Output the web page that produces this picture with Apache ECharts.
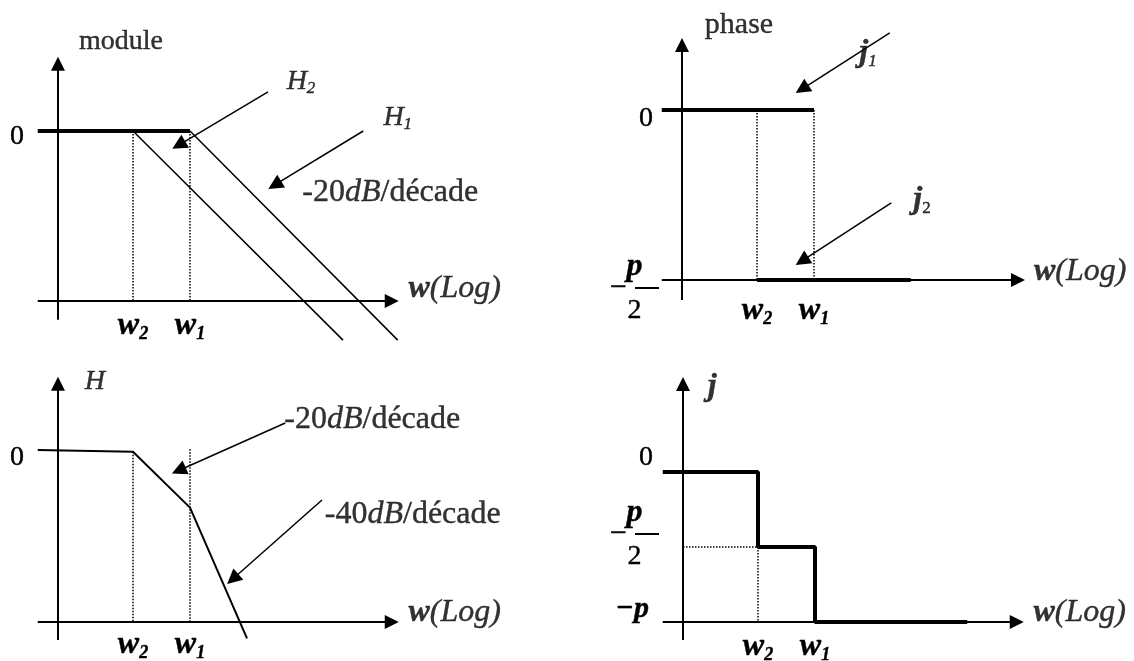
<!DOCTYPE html>
<html>
<head>
<meta charset="utf-8">
<title>Bode</title>
<script src="https://cdn.jsdelivr.net/npm/echarts@6/dist/echarts.min.js"></script>
<style>
html, body { margin: 0; padding: 0; background: #fff; }
#main { width: 1134px; height: 661px; }
</style>
</head>
<body>
<div id="main"></div>
<script>
// abscissa = log(w), the vertical axis sits at 0 ; w2 and w1 are the break points
const wValues = [1.0, 1.76];
const wLabels = ['w2', 'w1'];

// module of H1 and H2 (dB) : 0 then -20dB/decade
const moduleFlat = [[-0.27, 0], [1.76, 0]];
const moduleH2 = [[1.0, 0], [3.8, -24.6]];
const moduleH1 = [[1.76, 0], [4.53, -24.6]];
const moduleGuides = [[[1.0, 0], [1.0, -20]], [[1.76, 0], [1.76, -20]]];
const moduleTicks = [0];
const moduleTickLabels = ['0'];

// phases phi1 and phi2 (degrees)
const phase1 = [[-0.27, 0], [1.76, 0]];
const phase2 = [[1.0, -90], [3.05, -90]];
const phaseGuides = [[[1.0, 0], [1.0, -90]], [[1.76, 0], [1.76, -90]]];
const phaseTicks = [0, -90];
const phaseTickLabels = ['0', '-p/2'];

// H = H1.H2 : module (dB)
const hModule = [[-0.27, 0], [1.0, -0.2], [1.76, -6.7], [2.52, -21.9]];
const hGuides = [[[1.0, -0.2], [1.0, -20]], [[1.76, 0.1], [1.76, -20]]];
const hTicks = [0];
const hTickLabels = ['0'];

// phi = phi1 + phi2 (degrees)
const phiStep = [[-0.27, 0], [1.0, 0], [1.0, -90], [1.76, -90], [1.76, -180], [3.79, -180]];
const phiGuides = [[[0, -90], [1.0, -90]], [[1.0, -90], [1.0, -180]]];
const phiTicks = [0, -90, -180];
const phiTickLabels = ['0', '-p/2', '-p'];

// axes drawn as arrows : [start, end] per panel
const axesA = [[[-0.27, -20], [4.45, -20]], [[0, -22.2], [0, 7.9]]];
const axesB = [[[-0.27, -90], [4.48, -90]], [[0, -100.6], [0, 34.4]]];
const axesC = [[[-0.27, -20], [4.45, -20]], [[0, -22.1], [0, 7.7]]];
const axesD = [[[-0.27, -180], [4.45, -180]], [[0, -201.6], [0, 105.6]]];

// annotation arrows
const arrowsA = [[[2.8, 4.6], [1.61, -1.65]], [[4.07, 0], [2.89, -6.35]]];
const arrowsB = [[[2.77, 40.8], [1.6, 11.1]], [[2.79, -49.2], [1.6, -79.9]]];
const arrowsC = [[[3.03, 3.14], [1.61, -2.38]], [[3.52, -5.81], [2.33, -15.0]]];

const FONT = 'Liberation Serif';
function txt(size, italic, bold, extra) {
  return Object.assign({
    fontFamily: FONT, fontSize: size, color: '#000',
    textBorderColor: '#000', textBorderWidth: 0.4,
    fontStyle: italic ? 'italic' : 'normal', fontWeight: bold ? 'bold' : 'normal'
  }, extra || {});
}
const rich = {
  n: txt(28, false, false, { lineHeight: 30 }),
  i: txt(28, true, false, { lineHeight: 30 }),
  b: txt(28, true, true, { lineHeight: 30 }),
  L: txt(32, false, false, { lineHeight: 34 }),
  Li: txt(32, true, false, { lineHeight: 34 }),
  Lb: txt(32, true, true, { lineHeight: 34 }),
  ph: txt(30, false, false, { lineHeight: 32 }),
  si: txt(17, true, false, { verticalAlign: 'bottom', lineHeight: 20 }),
  sn: txt(17, false, false, { verticalAlign: 'bottom', lineHeight: 20 }),
  sb: txt(18, true, true, { verticalAlign: 'bottom', lineHeight: 20 }),
  // compact tokens (small boxes, so that stacked tick labels do not collide)
  c6: txt(28, false, false, { lineHeight: 10, padding: [0, 6, 0, 0] }),
  mp: txt(30, true, true, { lineHeight: 10, padding: [0, 10, 0, 0] }),
  fp: txt(32, true, true, { width: 24, align: 'center', lineHeight: 10 }),
  fd: txt(28, false, false, { width: 24, align: 'center', lineHeight: 10 }),
  fm: txt(30, false, false, { lineHeight: 2, padding: [0, 8, 0, 0] }),
  bar: { width: 24, height: 2, lineHeight: 2, backgroundColor: '#000', fontSize: 1 }
};
[12, 15, 16, 17, 18, 24, 26, 28].forEach(function (h) {
  rich['g' + h] = { height: h, lineHeight: h, fontSize: 1 };
});

// tick label text -> rich string ; dy moves the label down (>0) or up (<0)
function tickText(label, dy, padded) {
  let s;
  if (label === '-p/2') s = '{fp|p}\n{g15| }\n{fm|\u2212}{bar| }\n{g17| }\n{fd|2}';
  else if (label === '-p') s = '{mp|\u2212p}';
  else s = '{' + (padded ? 'c6' : 'n') + '|' + label + '}';
  if (dy > 0) s = '{g' + (2 * dy) + '| }\n' + s;
  if (dy < 0) s = s + '\n{g' + (-2 * dy) + '| }';
  return s;
}
function wText(label) {
  return '{Lb|' + label.charAt(0) + '}{sb|' + label.slice(1) + '}';
}

const panels = [
  { ox: 58, oy: 301, base: -20, sx: 75, sy: 8.5, xr: [-0.6, 5.8], yr: [-26, 13],
    ticks: moduleTicks, labels: moduleTickLabels, shifts: [6], yMargin: 34, xMargin: 8, padded: false },
  { ox: 682, oy: 280, base: -90, sx: 75, sy: 170 / 90, xr: [-0.6, 5.8], yr: [-104, 52],
    ticks: phaseTicks, labels: phaseTickLabels, shifts: [9, 9], yMargin: 23, xMargin: 14, padded: true },
  { ox: 58, oy: 622, base: -20, sx: 75, sy: 8.6, xr: [-0.6, 5.8], yr: [-24, 12],
    ticks: hTicks, labels: hTickLabels, shifts: [8], yMargin: 34, xMargin: 6, padded: false },
  { ox: 683, oy: 622, base: -180, sx: 75, sy: 75 / 90, xr: [-0.6, 5.8], yr: [-206, 120],
    ticks: phiTicks, labels: phiTickLabels, shifts: [-14, -12, -13], yMargin: 24, xMargin: 8, padded: true }
];

const grids = panels.map(function (p) {
  return {
    left: p.ox + p.xr[0] * p.sx, width: (p.xr[1] - p.xr[0]) * p.sx,
    top: p.oy - (p.yr[1] - p.base) * p.sy, height: (p.yr[1] - p.yr[0]) * p.sy,
    containLabel: false, outerBoundsMode: 'none'
  };
});
const xAxes = panels.map(function (p, k) {
  return {
    gridIndex: k, type: 'value', min: p.xr[0], max: p.xr[1], position: 'bottom',
    offset: -(p.base - p.yr[0]) * p.sy,
    axisLine: { show: false, onZero: false }, axisTick: { show: false }, splitLine: { show: false },
    axisLabel: {
      customValues: wValues, margin: p.xMargin, rich: rich, color: '#000',
      showMinLabel: true, showMaxLabel: true, hideOverlap: false,
      formatter: function (v) { return wText(wLabels[wValues.indexOf(v)]); }
    }
  };
});
const yAxes = panels.map(function (p, k) {
  return {
    gridIndex: k, type: 'value', min: p.yr[0], max: p.yr[1], position: 'left',
    offset: p.xr[0] * p.sx,
    axisLine: { show: false, onZero: false }, axisTick: { show: false }, splitLine: { show: false },
    axisLabel: {
      customValues: p.ticks, margin: p.yMargin, rich: rich, color: '#000',
      showMinLabel: true, showMaxLabel: true, hideOverlap: false,
      formatter: function (v) {
        const j = p.ticks.indexOf(v);
        return tickText(p.labels[j], p.shifts[j], p.padded);
      }
    }
  };
});

function path(g, points, width, dash) {
  return {
    type: 'line', xAxisIndex: g, yAxisIndex: g, data: points,
    showSymbol: false, symbol: 'none', silent: true, clip: false, animation: false,
    lineStyle: { color: '#000', width: width, type: dash ? [1.5, 1.5] : 'solid', cap: 'butt' }
  };
}
function arrows(g, segs, width, size) {
  return {
    type: 'line', xAxisIndex: g, yAxisIndex: g, data: [], silent: true, animation: false,
    markLine: {
      silent: true, animation: false, symbol: ['none', 'triangle'], symbolSize: size,
      label: { show: false }, emphasis: { disabled: true },
      lineStyle: { color: '#000', width: width, type: 'solid' },
      data: segs.map(function (s) { return [{ coord: s[0] }, { coord: s[1] }]; })
    }
  };
}
function texts(g, items) {
  return {
    type: 'scatter', xAxisIndex: g, yAxisIndex: g, symbolSize: 0, silent: true, animation: false,
    data: items.map(function (t) {
      return { value: t[0], label: { show: true, position: 'inside', color: '#000', formatter: t[1], rich: rich } };
    })
  };
}
const dbLabel = function (n) { return '{L|-' + n + '}{Li|dB}{L|/d\u00e9cade}'; };
const logLabel = '{Lb|w}{Li|(Log)}';

const series = [
  // module
  path(0, moduleFlat, 4), path(0, moduleH2, 1.5), path(0, moduleH1, 1.5),
  path(0, moduleGuides[0], 1.5, true), path(0, moduleGuides[1], 1.5, true),
  arrows(0, axesA, 2, 14), arrows(0, arrowsA, 1.5, 15),
  texts(0, [
    [[0.84, 10.5], '{n|module}'], [[3.24, 5.76], '{i|H}{si|2}'], [[4.53, 1.53], '{i|H}{si|1}'],
    [[4.43, -7.3], dbLabel(20)], [[5.29, -18.5], logLabel]
  ]),
  // phase
  path(1, phaseGuides[0], 1.5, true), path(1, phaseGuides[1], 1.5, true),
  arrows(1, axesB, 2, 14), arrows(1, arrowsB, 1.5, 15),
  path(1, phase1, 4), path(1, phase2, 4),
  texts(1, [
    [[0.76, 45], '{ph|phase}'], [[2.48, 30.2], '{Lb|j}{si|1}'], [[3.2, -47.6], '{Lb|j}{sn|2}'],
    [[5.31, -85.8], logLabel]
  ]),
  // H
  path(2, hModule, 2),
  path(2, hGuides[0], 1.5, true), path(2, hGuides[1], 1.5, true),
  arrows(2, axesC, 2, 14), arrows(2, arrowsC, 1.5, 15),
  texts(2, [
    [[0.49, 7.9], '{i|H}'], [[4.19, 3.5], dbLabel(20)], [[4.73, -7.56], dbLabel(40)],
    [[5.29, -18.95], logLabel]
  ]),
  // phi
  path(3, phiGuides[0], 1.5, true), path(3, phiGuides[1], 1.5, true),
  arrows(3, axesD, 2, 14),
  path(3, phiStep, 4),
  texts(3, [[[0.39, 102], '{Lb|j}'], [[5.29, -169.2], logLabel]])
];

const chart = echarts.init(document.getElementById('main'), null, { renderer: 'canvas' });
chart.setOption({
  backgroundColor: '#fff',
  animation: false,
  grid: grids,
  xAxis: xAxes,
  yAxis: yAxes,
  series: series
});
</script>
</body>
</html>
